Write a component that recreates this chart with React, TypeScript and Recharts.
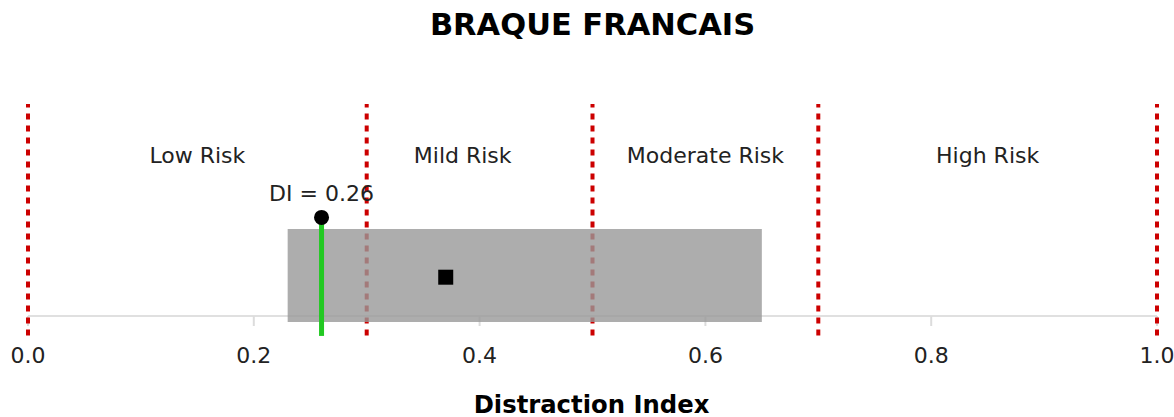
import { ComposedChart, ReferenceArea, ReferenceLine, Scatter, XAxis, YAxis } from "recharts";

const TITLE = "BRAQUE FRANCAIS";
const AXIS_TITLE = "Distraction Index";

// risk band boundaries and labels (x in DI units, y in 0..100 plot units)
const riskBounds = [0, 0.3, 0.5, 0.7, 1.0];
const riskLabels = [
  { x: 0.15, y: 72.2, text: "Low Risk" },
  { x: 0.385, y: 72.2, text: "Mild Risk" },
  { x: 0.6, y: 72.2, text: "Moderate Risk" },
  { x: 0.85, y: 72.2, text: "High Risk" },
];
const xTicks = [0, 0.2, 0.4, 0.6, 0.8, 1.0];

// breed range box + median, and the dog's DI
const rangeLow = 0.23;
const rangeHigh = 0.65;
const rangeBottom = -2.8;
const rangeTop = 41;
const median = [{ x: 0.37, y: 18.3 }];
const diValue = 0.26;
const diPoint = [{ x: diValue, y: 46.5 }];
const diLabel = [{ x: diValue, y: 54.2, text: "DI = 0.26" }];
const guideBottom = -9.2;
const stemBottom = -9.4;

const FONT = "'DejaVu Sans', Verdana, sans-serif";
const TEXT = "#222";

const LabelShape = (props: any) => (
  <text x={props.cx} y={props.cy} textAnchor="middle" fontSize={22} fill={TEXT} fontFamily={FONT}>
    {props.payload.text}
  </text>
);

const SquareShape = (props: any) => (
  <rect x={props.cx - 7.5} y={props.cy - 7.5} width={15} height={15} fill="#000" />
);

const DotShape = (props: any) => <circle cx={props.cx} cy={props.cy} r={7.5} fill="#000" />;

export default function App() {
  return (
    <div style={{ position: "absolute", left: 0, top: 0, width: 1174, height: 417, background: "#fff", fontFamily: FONT, overflow: "hidden" }}>
      <div style={{ position: "absolute", left: 0, width: 1185, top: 9.5, textAlign: "center", fontSize: 30.5, fontWeight: "bold", lineHeight: 1, color: "#000" }}>
        {TITLE}
      </div>
      <ComposedChart width={1174} height={417} margin={{ top: 104, right: 17, bottom: 11, left: 28 }} style={{ overflow: "visible" }}>
        <XAxis
          type="number"
          dataKey="x"
          domain={[0, 1]}
          ticks={xTicks}
          tickFormatter={(v: number) => v.toFixed(1)}
          height={90}
          tickSize={10}
          tickMargin={21}
          axisLine={{ stroke: "#e0e0e0", strokeWidth: 2 }}
          tickLine={{ stroke: "#dcdcdc", strokeWidth: 2 }}
          tick={{ fontSize: 22, fill: TEXT, fontFamily: FONT }}
          allowDataOverflow
        />
        <YAxis type="number" dataKey="y" domain={[0, 100]} hide allowDataOverflow />
        {riskBounds.map((b) => (
          <ReferenceLine
            key={b}
            segment={[{ x: b, y: guideBottom }, { x: b, y: 100 }]}
            stroke="#cc0000"
            strokeWidth={4}
            strokeDasharray="6 6"
            ifOverflow="visible"
            zIndex={510}
          />
        ))}
        <ReferenceArea
          x1={rangeLow}
          x2={rangeHigh}
          y1={rangeBottom}
          y2={rangeTop}
          fill="#999999"
          fillOpacity={0.8}
          stroke="none"
          ifOverflow="visible"
          zIndex={520}
        />
        <ReferenceLine
          segment={[{ x: diValue, y: stemBottom }, { x: diValue, y: 46.5 }]}
          stroke="#22c922"
          strokeWidth={5}
          ifOverflow="visible"
          zIndex={530}
        />
        <Scatter data={median} shape={SquareShape} isAnimationActive={false} zIndex={600} />
        <Scatter data={diPoint} shape={DotShape} isAnimationActive={false} zIndex={600} />
        <Scatter data={diLabel} shape={LabelShape} isAnimationActive={false} zIndex={600} />
        <Scatter data={riskLabels} shape={LabelShape} isAnimationActive={false} zIndex={600} />
      </ComposedChart>
      <div style={{ position: "absolute", left: 0, width: 1183, top: 392.5, textAlign: "center", fontSize: 24.3, fontWeight: "bold", lineHeight: 1, color: "#000" }}>
        {AXIS_TITLE}
      </div>
    </div>
  );
}
